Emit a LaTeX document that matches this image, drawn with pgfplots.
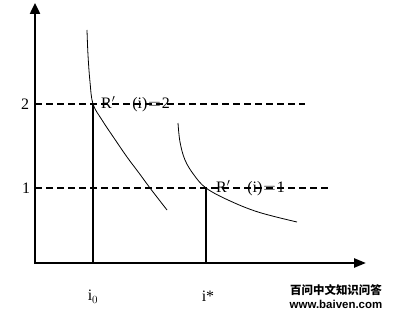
\documentclass[border=0pt]{standalone}
\usepackage{pgfplots}
\pgfplotsset{compat=1.18}
\usetikzlibrary{arrows.meta}
\usepackage{fontspec}
\setmainfont{Liberation Serif}
\newfontfamily\cjk{Noto Sans CJK SC}
\newfontfamily\wsans{Liberation Sans}
\begin{document}
\begin{tikzpicture}
\begin{axis}[
  width=395bp, height=318bp, scale only axis,
  xmin=0, xmax=395, ymin=0, ymax=318, y dir=reverse,
  hide axis, clip=false,
]
\addplot[draw=none] coordinates {(0,0) (395,318)};
% axes
\addplot[line width=2.4bp, -{Triangle[length=11bp,width=10bp]}] coordinates {(35,263) (35,3)};
\addplot[line width=2.4bp, -{Triangle[length=12bp,width=9bp]}] coordinates {(34,263) (366,263)};
% dashed lines
\addplot[line width=1.6bp, dash pattern=on 7bp off 4bp] coordinates {(35,104) (305,104)};
\addplot[line width=1.6bp, dash pattern=on 7bp off 4bp] coordinates {(35,188) (330,188)};
% verticals
\addplot[line width=1.6bp] coordinates {(93,104) (93,263)};
\addplot[line width=1.6bp] coordinates {(206,188) (206,263)};
% curves
\addplot[line width=0.8bp, smooth, tension=0.6] coordinates {(87,30) (88,55) (90,82) (93,104) (102,120) (114,138) (127,157) (139,173) (150,188) (167,210)};
\addplot[line width=0.8bp, smooth, tension=0.6] coordinates {(178,123) (180,142) (185,160) (194,175) (206,188) (228,200) (258,212) (297,222)};
% labels
\node[anchor=west, font=\fontsize{16}{18}\selectfont, inner sep=0] at (axis cs:101,104) {R$'$\hspace{17bp}(i)\hspace{1bp}$=$\hspace{1bp}2};
\node[anchor=west, font=\fontsize{16}{18}\selectfont, inner sep=0] at (axis cs:216,188) {R$'$\hspace{17bp}(i)\hspace{1bp}$=$\hspace{1bp}1};
\node[font=\fontsize{16}{18}\selectfont] at (axis cs:25,104) {2};
\node[font=\fontsize{16}{18}\selectfont] at (axis cs:26,188) {1};
\node[font=\fontsize{16}{18}\selectfont] at (axis cs:93,297) {i$_0$};
\node[font=\fontsize{16}{18}\selectfont] at (axis cs:208,296) {i*};
\node[font=\cjk\bfseries\fontsize{11.5}{13}\selectfont, inner sep=0] at (axis cs:336,290) {百问中文知识问答};
\node[font=\wsans\bfseries\fontsize{11.5}{13}\selectfont, inner sep=0] at (axis cs:336,304) {www.baiven.com};
\end{axis}
\end{tikzpicture}
\end{document}
